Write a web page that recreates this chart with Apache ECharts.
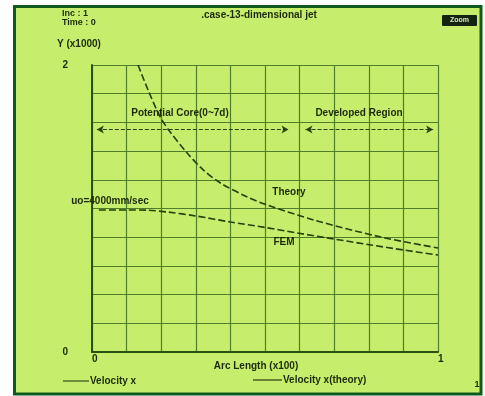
<!DOCTYPE html>
<html>
<head>
<meta charset="utf-8">
<style>
  html, body { margin: 0; padding: 0; background: #ffffff; }
  #chart { width: 485px; height: 396px; }
</style>
<script src="https://cdn.jsdelivr.net/npm/echarts@6/dist/echarts.min.js"></script>
</head>
<body>
<div id="chart"></div>
<script>
// Axial velocity along the jet centreline (x in units of 100, y in units of 1000)
const xTickLabels = ['0', '1'];
const yTickLabels = ['0', '2'];

// FEM result: Velocity x
const femX = [0.02, 0.10, 0.16, 0.22, 0.30, 0.40, 0.50, 0.594, 0.70, 0.806, 0.90, 1.0];
const femY = [0.99, 0.99, 0.988, 0.975, 0.948, 0.906, 0.868, 0.829, 0.787, 0.746, 0.711, 0.676];

// Theoretical decay: Velocity x(theory)
const theoryX = [0.133, 0.162, 0.197, 0.226, 0.275, 0.322, 0.371, 0.449, 0.507, 0.641, 0.835, 1.0];
const theoryY = [2.0, 1.826, 1.638, 1.533, 1.387, 1.268, 1.178, 1.080, 1.024, 0.920, 0.801, 0.725];

// Region markers (start x, end x, level y)
const coreRegion = [0.014, 0.568, 1.55];
const developedRegion = [0.617, 0.986, 1.55];

const ink = '#1c2a08';
const curveColor = '#24400c';
const font = '"Liberation Sans", Arial, sans-serif';
const lineIcon = 'path://M0,0 L26,0 L26,1 L0,1 Z';

function pairs(xs, ys) { return xs.map((x, i) => [x, ys[i]]); }

function txt(x, y, s, opts) {
  return Object.assign({
    type: 'text', x: x, y: y, z: 10,
    style: Object.assign({
      text: s, fill: ink, font: 'bold 10px ' + font,
      textVerticalAlign: 'middle'
    }, (opts && opts.style) || {})
  }, opts && opts.el ? opts.el : {});
}

const chart = echarts.init(document.getElementById('chart'), null, { renderer: 'canvas' });

const arrowLine = (r) => [[{ coord: [r[0], r[2]] }, { coord: [r[1], r[2]] }]];

const legendText = { color: ink, fontWeight: 'bold', fontSize: 10, fontFamily: font, padding: [0, 0, 0, -4] };

chart.setOption({
  backgroundColor: '#ffffff',
  animation: false,
  grid: { left: 92, top: 65, width: 346, height: 287, containLabel: false },
  xAxis: {
    type: 'value', min: 0, max: 1, interval: 0.1,
    axisLine: { show: true, lineStyle: { color: '#2a5010', width: 2 } },
    axisTick: { show: false },
    splitLine: { show: true, lineStyle: { color: '#4f7d2a', width: 1.2 } },
    axisLabel: {
      margin: 2, align: 'left', color: ink, fontWeight: 'bold', fontSize: 10, fontFamily: font,
      showMinLabel: true, showMaxLabel: true,
      formatter: (v) => (v === 0 ? xTickLabels[0] : (v === 1 ? xTickLabels[1] : ''))
    }
  },
  yAxis: {
    type: 'value', min: 0, max: 2, interval: 0.2,
    axisLine: { show: true, lineStyle: { color: '#2a5010', width: 2 } },
    axisTick: { show: false },
    splitLine: { show: true, lineStyle: { color: '#4f7d2a', width: 1.2 } },
    axisLabel: {
      margin: 24, color: ink, fontWeight: 'bold', fontSize: 10, fontFamily: font,
      showMinLabel: true, showMaxLabel: true,
      formatter: (v) => (v === 0 ? yTickLabels[0] : (v === 2 ? yTickLabels[1] : ''))
    }
  },
  legend: [
    {
      left: 58, top: 371, itemWidth: 26, itemHeight: 1.2, itemGap: 0,
      data: [{ name: 'Velocity x', icon: lineIcon }],
      itemStyle: { color: '#1c2a08' },
      textStyle: legendText
    },
    {
      left: 248, top: 370, itemWidth: 29, itemHeight: 1.2, itemGap: 0,
      data: [{ name: 'Velocity x(theory)', icon: lineIcon }],
      itemStyle: { color: '#1c2a08' },
      textStyle: legendText
    }
  ],
  series: [
    {
      name: 'Velocity x', type: 'line', data: pairs(femX, femY),
      showSymbol: false, symbol: 'none', smooth: 0.3, clip: true,
      lineStyle: { color: curveColor, width: 1.6, type: [7, 3] },
      itemStyle: { color: curveColor },
      markLine: {
        silent: true, symbol: ['arrow', 'arrow'], symbolSize: [6, 7],
        label: { show: false },
        lineStyle: { color: '#2a4210', width: 1.2, type: [4, 2] },
        data: arrowLine(coreRegion).concat(arrowLine(developedRegion))
      }
    },
    {
      name: 'Velocity x(theory)', type: 'line', data: pairs(theoryX, theoryY),
      showSymbol: false, symbol: 'none', smooth: 0.3, clip: true,
      lineStyle: { color: curveColor, width: 1.6, type: [7, 3] },
      itemStyle: { color: curveColor }
    }
  ],
  graphic: [
    // panel with dark green frame
    {
      type: 'rect', z: -1, silent: true,
      shape: { x: 14.5, y: 6.5, width: 466.5, height: 387.5 },
      style: { fill: '#c6ee6c', stroke: '#0e5a1c', lineWidth: 3 }
    },
    txt(62, 14, 'Inc : 1', { style: { font: 'bold 9px ' + font } }),
    txt(62, 23, 'Time : 0', { style: { font: 'bold 9px ' + font } }),
    txt(57, 44, 'Y (x1000)'),
    txt(259, 15, '.case-13-dimensional jet', { style: { textAlign: 'center' } }),
    {
      type: 'rect', z: 10, silent: true,
      shape: { x: 442, y: 15, width: 35, height: 11, r: 1 },
      style: { fill: '#142410' }
    },
    txt(459.5, 20.5, 'Zoom', { style: { textAlign: 'center', fill: '#d8e8c0', font: 'bold 7px ' + font } }),
    txt(180, 113, 'Potential Core(0~7d)', { style: { textAlign: 'center' } }),
    txt(359, 113, 'Developed Region', { style: { textAlign: 'center' } }),
    txt(110, 201, 'uo=4000mm/sec', { style: { textAlign: 'center' } }),
    txt(289, 192, 'Theory', { style: { textAlign: 'center' } }),
    txt(284, 242, 'FEM', { style: { textAlign: 'center' } }),
    txt(256, 366, 'Arc Length (x100)', { style: { textAlign: 'center' } }),
    txt(477, 385, '1', { style: { textAlign: 'center', font: 'bold 9px ' + font } })
  ]
});
</script>
</body>
</html>
